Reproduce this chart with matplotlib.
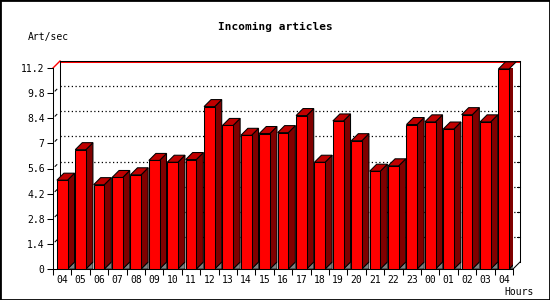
import matplotlib
matplotlib.use("Agg")
import matplotlib.pyplot as plt
from matplotlib.patches import Polygon, Rectangle

# Data
hours = ["04", "05", "06", "07", "08", "09", "10", "11", "12", "13", "14", "15",
         "16", "17", "18", "19", "20", "21", "22", "23", "00", "01", "02", "03", "04"]
rates = [4.95, 6.65, 4.7, 5.1, 5.25, 6.05, 5.95, 6.1, 9.05, 8.0, 7.45, 7.55,
         7.6, 8.55, 5.95, 8.25, 7.15, 5.45, 5.75, 8.05, 8.2, 7.8, 8.6, 8.2, 11.15]
yticks = [0, 1.4, 2.8, 4.2, 5.6, 7, 8.4, 9.8, 11.2]
ytick_labels = ["0", "1.4", "2.8", "4.2", "5.6", "7", "8.4", "9.8", "11.2"]

FRONT = "#ff0000"
SIDE = "#800000"
TOP = "#c00000"
FLOOR = "#808080"
MONO = "DejaVu Sans Mono"

W, H = 550, 300
fig = plt.figure(figsize=(5.5, 3), dpi=100)
fig.patch.set_facecolor("white")

# axes = front face of the 3D plot area
left_px, right_px, bottom_px, top_px = 53, 513, 269, 68
ax = fig.add_axes([left_px / W, 1 - bottom_px / H,
                   (right_px - left_px) / W, (bottom_px - top_px) / H])
n = len(rates)
ymax = yticks[-1]
ax.set_xlim(0, n)
ax.set_ylim(0, ymax)
ax.patch.set_visible(False)

# depth of the 3D effect, 7 px converted to data units
dx = 7 / ((right_px - left_px) / n)
dy = 7 / ((bottom_px - top_px) / ymax)
px_y = ymax / (bottom_px - top_px)
lw = 0.75

for s in ["top", "right"]:
    ax.spines[s].set_visible(False)
ax.spines["left"].set_linewidth(lw)
ax.spines["bottom"].set_linewidth(lw)

# back wall frame
ax.plot([dx, n + dx], [ymax + dy - px_y, ymax + dy - px_y], color="red", lw=lw,
        clip_on=False, zorder=1)
ax.plot([0, dx], [ymax, ymax + dy], color="red", lw=1.0, clip_on=False, zorder=1)
kw = dict(color="black", lw=lw, clip_on=False, zorder=1.5)
ax.plot([dx, dx], [dy, ymax + dy], **kw)
ax.plot([n + dx, n + dx], [dy, ymax + dy], **kw)
ax.plot([n, n + dx], [0, dy], **kw)
ax.plot([dx, n + dx], [ymax + dy, ymax + dy], **kw)

# dotted grid on the back wall, small ticks on right wall
for v in yticks[1:-1]:
    ax.plot([dx, n + dx], [v + dy, v + dy], color="black", lw=0.9,
            ls=(0, (1, 2)), clip_on=False, zorder=0.5)
    ax.plot([n + dx - 0.15, n + dx], [v + dy, v + dy], **kw)
    ax.plot([dx * 0.3, dx * 0.55], [v + dy * 0.3, v + dy * 0.55], **kw)

# 3D bars
bw = 0.58
for i, v in enumerate(rates):
    x0 = i + 0.5 - bw / 2
    x1 = x0 + bw
    ax.add_patch(Polygon([(x1, 0), (x1 + dx, dy), (x1 + dx, 0)], closed=True,
                         facecolor=FLOOR, edgecolor="black", lw=0.5, zorder=2))
    ax.add_patch(Polygon([(x1, 0), (x1 + dx, dy), (x1 + dx, v + dy), (x1, v)], closed=True,
                         facecolor=SIDE, edgecolor="black", lw=lw, zorder=3))
    ax.add_patch(Polygon([(x0, v), (x0 + dx, v + dy), (x1 + dx, v + dy), (x1, v)], closed=True,
                         facecolor=TOP, edgecolor="black", lw=lw, zorder=3, clip_on=False))
    ax.bar(i + 0.5, v, width=bw, color=FRONT, edgecolor="black", linewidth=lw, zorder=4)

# ticks and labels
ax.set_yticks(yticks)
ax.set_yticklabels(ytick_labels, fontsize=7, family=MONO)
ax.tick_params(axis="y", direction="out", length=4, width=lw, pad=2)
ax.set_xticks([i + 0.5 for i in range(n)])
ax.set_xticklabels(hours, fontsize=7, family=MONO)
ax.set_xticks(range(n + 1), minor=True)
ax.tick_params(axis="x", which="major", length=0, pad=4)
ax.tick_params(axis="x", which="minor", direction="out", length=4, width=lw)

fig.text(275 / W, 1 - 27 / H, "Incoming articles", ha="center", va="center",
         fontsize=8, fontweight="bold", family=MONO)
fig.text(28 / W, 1 - 37 / H, "Art/sec", ha="left", va="center", fontsize=7, family=MONO)
fig.text(534 / W, 1 - 292 / H, "Hours", ha="right", va="center", fontsize=7, family=MONO)

fig.patches.append(Rectangle((0, 0), 1, 1, transform=fig.transFigure, fill=False,
                             edgecolor="black", lw=2))

fig.savefig("out.png", dpi=100)
